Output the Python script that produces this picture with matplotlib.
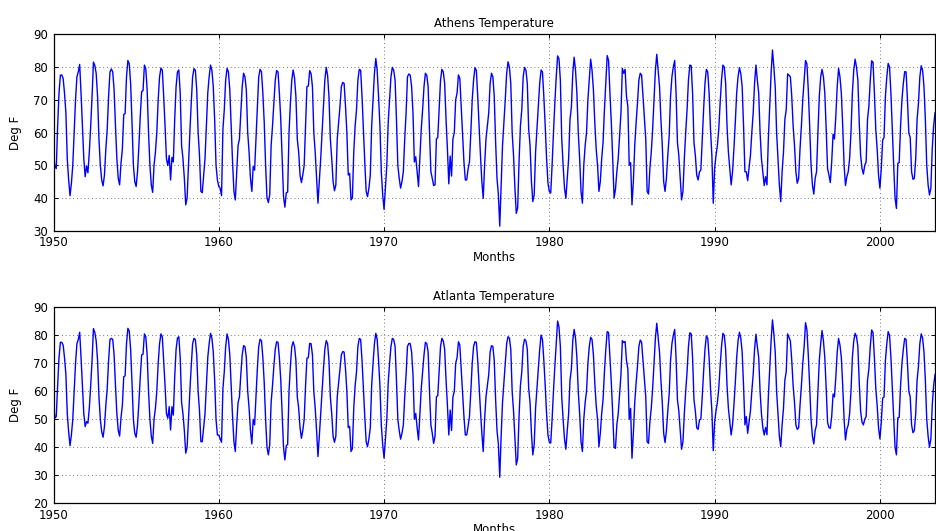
import numpy as np
import matplotlib
matplotlib.use("Agg")
import matplotlib.pyplot as plt

plt.rcParams['font.family'] = ['DejaVu Sans']

start_year = 1950
# Monthly mean temperatures (Deg F), Jan 1950 .. May 2003, one row per year
athens_temp = [
    53.4, 49.5, 49.0, 62.0, 72.0, 77.5, 77.6, 76.5, 72.0, 66.0, 52.0, 45.5,
    40.7, 44.5, 50.0, 60.0, 70.0, 77.0, 78.5, 80.8, 72.0, 62.0, 52.0, 46.5,
    49.8, 47.7, 54.0, 62.0, 71.0, 81.5, 80.5, 78.0, 71.0, 58.0, 50.0, 45.5,
    43.7, 47.0, 55.0, 61.0, 71.0, 78.5, 79.4, 78.5, 73.0, 62.0, 52.0, 46.0,
    44.0, 50.5, 55.0, 65.5, 65.8, 77.0, 82.0, 81.0, 75.0, 63.0, 50.0, 45.0,
    43.5, 48.0, 56.0, 65.0, 72.5, 72.8, 80.6, 79.5, 73.0, 60.0, 50.0, 44.0,
    41.7, 50.0, 54.0, 60.0, 70.0, 77.0, 79.7, 79.0, 71.0, 62.0, 52.0, 49.9,
    53.0, 45.5, 52.4, 51.0, 64.0, 74.0, 78.5, 79.1, 72.0, 56.0, 52.0, 46.0,
    37.9, 40.0, 50.0, 60.0, 69.0, 77.0, 79.5, 79.0, 73.0, 60.0, 53.0, 42.0,
    41.6, 47.0, 52.0, 62.0, 72.0, 77.0, 80.6, 79.0, 74.0, 64.0, 50.0, 45.5,
    43.5, 43.0, 40.7, 61.0, 67.0, 76.0, 79.6, 78.5, 73.0, 62.0, 51.0, 42.0,
    39.4, 48.0, 56.0, 58.0, 66.0, 74.0, 78.1, 77.0, 73.0, 60.0, 54.0, 46.0,
    42.0, 49.6, 48.5, 58.0, 68.0, 77.0, 79.3, 78.5, 72.0, 63.0, 50.0, 40.0,
    38.6, 41.0, 56.0, 62.0, 69.0, 76.0, 78.9, 78.5, 72.0, 64.0, 52.0, 40.5,
    37.2, 41.6, 41.8, 60.0, 69.0, 76.0, 79.1, 76.6, 71.0, 58.0, 54.0, 47.0,
    44.7, 47.0, 50.0, 62.0, 74.0, 74.2, 78.9, 78.0, 74.0, 60.0, 54.0, 46.0,
    38.4, 45.0, 52.0, 60.0, 68.0, 76.0, 79.9, 77.5, 71.0, 58.0, 52.0, 45.0,
    42.2, 44.0, 58.0, 63.0, 68.0, 74.0, 75.3, 75.0, 68.0, 60.0, 47.0, 47.5,
    39.4, 40.0, 54.0, 62.0, 67.0, 76.0, 79.3, 79.0, 71.0, 61.0, 51.0, 42.0,
    40.4, 43.0, 47.0, 62.0, 70.0, 78.0, 82.6, 79.0, 71.0, 62.0, 48.0, 41.0,
    36.5, 43.0, 50.0, 63.0, 70.0, 77.0, 79.9, 79.0, 76.0, 64.0, 50.0, 46.0,
    43.0, 45.0, 48.0, 58.0, 66.0, 77.0, 77.9, 77.5, 74.0, 66.0, 51.0, 52.6,
    48.0, 43.5, 52.0, 61.0, 67.0, 74.0, 78.1, 77.5, 74.0, 60.0, 48.0, 46.0,
    43.8, 44.0, 58.0, 58.5, 67.0, 76.0, 79.3, 78.5, 75.0, 64.0, 55.0, 44.3,
    52.8, 46.7, 58.0, 60.0, 70.0, 72.0, 77.6, 76.5, 68.0, 59.0, 51.0, 45.5,
    45.5, 48.8, 51.0, 60.0, 70.0, 76.0, 79.8, 79.0, 71.0, 62.0, 53.0, 45.0,
    39.9, 50.0, 58.0, 62.0, 66.0, 75.0, 78.1, 77.0, 71.0, 57.0, 46.0, 41.0,
    31.4, 44.0, 56.0, 63.0, 70.0, 78.0, 81.6, 80.0, 75.0, 60.0, 53.0, 43.0,
    35.3, 37.0, 51.0, 62.0, 67.0, 77.0, 79.9, 79.0, 75.0, 61.0, 56.0, 45.0,
    38.9, 41.0, 54.0, 61.0, 68.0, 75.0, 79.1, 78.5, 71.0, 62.0, 52.0, 44.5,
    42.0, 41.5, 50.0, 60.0, 69.0, 77.0, 83.4, 82.5, 76.0, 58.0, 50.0, 43.0,
    39.9, 46.0, 52.0, 64.0, 67.7, 78.0, 83.0, 79.0, 72.0, 60.0, 52.0, 42.0,
    38.4, 50.0, 56.0, 60.0, 70.0, 76.0, 82.4, 79.0, 73.0, 63.0, 55.0, 50.0,
    42.0, 45.0, 52.0, 57.0, 67.0, 75.0, 83.5, 82.0, 72.0, 63.0, 52.0, 40.0,
    42.6, 48.0, 52.0, 59.0, 66.0, 79.6, 78.1, 79.3, 71.0, 68.0, 50.0, 50.8,
    37.9, 45.0, 56.0, 63.0, 69.0, 76.0, 78.1, 77.5, 71.0, 65.0, 58.0, 42.0,
    41.2, 49.0, 54.0, 61.0, 70.0, 79.0, 83.9, 79.0, 74.0, 64.0, 56.0, 45.0,
    42.0, 46.0, 53.0, 59.0, 71.0, 77.0, 80.0, 82.0, 72.0, 57.0, 53.0, 46.0,
    39.4, 42.0, 52.0, 60.0, 67.0, 76.0, 80.6, 80.4, 72.0, 57.0, 53.0, 47.0,
    45.5, 48.0, 48.5, 58.0, 67.0, 75.0, 79.3, 78.5, 72.0, 61.0, 53.0, 38.4,
    49.0, 53.0, 56.0, 61.0, 69.0, 76.0, 80.6, 80.0, 75.0, 62.0, 54.0, 49.0,
    44.0, 48.0, 55.0, 63.0, 72.0, 77.0, 79.8, 78.0, 74.0, 62.0, 48.0, 48.0,
    45.3, 49.0, 53.0, 60.0, 66.0, 75.0, 80.6, 76.0, 72.0, 60.0, 52.0, 48.0,
    43.8, 46.5, 44.0, 58.0, 68.0, 78.0, 85.2, 80.0, 74.0, 60.0, 52.0, 44.0,
    38.9, 48.0, 54.0, 64.0, 67.0, 77.9, 77.5, 77.0, 71.0, 62.0, 56.0, 48.0,
    44.5, 46.0, 55.0, 62.0, 70.0, 76.0, 82.0, 81.0, 73.0, 62.0, 50.0, 44.0,
    41.2, 46.0, 48.0, 60.0, 71.0, 77.0, 79.3, 77.0, 72.0, 61.0, 49.0, 47.0,
    44.7, 51.0, 59.5, 58.0, 65.0, 74.0, 79.6, 77.0, 72.0, 62.0, 50.0, 43.8,
    46.5, 48.0, 52.0, 60.0, 72.0, 79.0, 82.4, 80.0, 76.0, 63.0, 53.0, 49.0,
    47.3, 50.0, 51.0, 64.0, 68.0, 76.0, 81.9, 81.5, 72.0, 61.0, 55.0, 47.0,
    43.0, 49.0, 57.7, 58.5, 71.0, 77.0, 81.1, 80.0, 72.0, 61.0, 50.0, 40.0,
    36.8, 50.6, 50.8, 62.0, 70.0, 75.0, 78.6, 78.5, 70.0, 59.8, 58.5, 48.0,
    45.7, 46.0, 52.0, 64.0, 69.0, 77.0, 80.4, 79.0, 74.0, 64.0, 50.0, 44.0,
    40.9, 43.0, 55.0, 62.0, 66.0,
]

atlanta_temp = [
    55.5, 50.4, 51.0, 62.0, 72.0, 77.5, 77.5, 76.5, 72.0, 66.0, 52.0, 45.5,
    40.6, 44.5, 50.0, 60.0, 70.0, 77.0, 78.5, 81.1, 72.0, 62.0, 52.0, 47.4,
    49.2, 48.6, 54.0, 62.0, 71.0, 82.4, 81.0, 78.0, 71.0, 58.0, 50.0, 45.5,
    43.6, 47.4, 55.0, 61.0, 71.0, 78.5, 78.9, 78.5, 73.0, 62.0, 52.0, 46.0,
    44.0, 50.5, 55.0, 65.2, 65.5, 77.0, 82.5, 81.5, 75.0, 63.0, 50.0, 45.0,
    43.6, 48.0, 56.0, 65.0, 73.0, 73.3, 80.5, 79.5, 73.0, 60.0, 50.0, 44.0,
    41.4, 50.0, 54.0, 60.0, 70.0, 77.0, 80.5, 79.5, 71.0, 62.0, 52.0, 50.4,
    54.5, 46.2, 54.5, 51.5, 65.0, 75.0, 79.0, 79.5, 72.0, 56.0, 52.0, 46.0,
    37.9, 40.0, 50.0, 60.0, 69.0, 77.0, 78.9, 78.5, 73.0, 60.0, 53.0, 42.0,
    42.0, 47.0, 52.0, 62.0, 72.0, 77.0, 80.7, 79.0, 74.0, 64.0, 50.0, 44.4,
    44.4, 43.0, 41.8, 61.0, 67.0, 76.0, 80.5, 78.5, 73.0, 62.0, 51.0, 42.0,
    38.5, 48.0, 56.0, 58.0, 66.0, 73.0, 76.3, 76.0, 72.0, 60.0, 54.0, 46.0,
    41.2, 50.0, 48.0, 58.0, 68.0, 76.0, 78.6, 78.0, 72.0, 63.0, 50.0, 40.0,
    37.3, 41.0, 56.0, 62.0, 69.0, 75.0, 77.7, 77.5, 72.0, 64.0, 52.0, 40.0,
    35.5, 40.6, 41.0, 60.0, 69.0, 76.0, 77.7, 76.0, 71.0, 58.0, 54.0, 47.0,
    43.2, 46.0, 50.0, 62.0, 71.8, 72.0, 77.1, 77.0, 73.0, 60.0, 54.0, 46.0,
    36.7, 44.0, 52.0, 60.0, 68.0, 75.0, 78.1, 77.0, 71.0, 58.0, 52.0, 43.8,
    41.8, 44.0, 58.0, 63.0, 68.0, 73.0, 74.2, 74.0, 68.0, 60.0, 47.0, 47.5,
    38.5, 39.5, 54.0, 62.0, 67.0, 76.0, 78.9, 78.5, 71.0, 61.0, 51.0, 42.0,
    40.2, 43.0, 47.0, 62.0, 70.0, 77.0, 80.7, 78.5, 71.0, 62.0, 48.0, 41.0,
    36.1, 43.0, 50.0, 63.0, 70.0, 76.0, 78.9, 78.5, 76.0, 64.0, 50.0, 46.0,
    42.9, 45.0, 48.0, 58.0, 66.0, 76.0, 77.1, 77.0, 74.0, 66.0, 50.0, 52.1,
    47.0, 42.6, 52.0, 61.0, 67.0, 73.0, 77.5, 77.0, 74.0, 60.0, 48.0, 45.0,
    41.4, 44.0, 58.0, 58.5, 67.0, 76.0, 78.9, 78.0, 75.0, 64.0, 55.0, 44.4,
    53.3, 46.0, 58.0, 60.0, 70.0, 72.0, 77.7, 76.5, 68.0, 59.0, 51.0, 44.4,
    44.4, 47.4, 51.0, 60.0, 70.0, 76.0, 77.7, 77.5, 71.0, 62.0, 53.0, 45.0,
    38.5, 50.0, 58.0, 62.0, 66.0, 74.0, 76.3, 76.0, 71.0, 57.0, 46.0, 41.0,
    29.3, 44.0, 56.0, 63.0, 70.0, 77.0, 79.5, 79.0, 75.0, 60.0, 53.0, 43.0,
    33.7, 36.0, 51.0, 62.0, 67.0, 76.0, 78.6, 78.0, 75.0, 61.0, 56.0, 45.0,
    37.3, 41.0, 54.0, 61.0, 68.0, 75.0, 80.1, 78.5, 71.0, 62.0, 52.0, 44.4,
    41.8, 41.5, 50.0, 60.0, 69.0, 77.0, 85.1, 83.0, 76.0, 58.0, 50.0, 43.0,
    39.3, 46.0, 52.0, 64.0, 67.9, 78.0, 82.1, 79.0, 72.0, 60.0, 52.0, 42.0,
    38.5, 50.0, 56.0, 60.0, 70.0, 76.0, 79.3, 78.5, 73.0, 63.0, 55.0, 50.0,
    40.2, 45.0, 52.0, 57.0, 67.0, 75.0, 81.3, 81.0, 72.0, 63.0, 52.0, 40.0,
    39.6, 48.0, 52.0, 59.0, 66.0, 78.1, 77.4, 77.8, 71.0, 68.0, 50.0, 53.9,
    36.1, 45.0, 56.0, 63.0, 69.0, 76.0, 78.3, 77.5, 71.0, 65.0, 58.0, 42.0,
    41.4, 49.0, 54.0, 61.0, 70.0, 79.0, 84.3, 79.0, 74.0, 64.0, 56.0, 45.0,
    41.7, 46.0, 53.0, 59.0, 71.0, 77.0, 80.0, 82.1, 72.0, 57.0, 53.0, 46.0,
    39.3, 42.0, 52.0, 60.0, 67.0, 76.0, 80.9, 80.5, 72.0, 57.0, 53.0, 47.0,
    46.4, 49.8, 50.0, 58.0, 67.0, 75.0, 79.8, 79.0, 72.0, 61.0, 53.0, 38.8,
    49.0, 53.0, 56.0, 61.0, 69.0, 76.0, 80.7, 80.0, 75.0, 62.0, 54.0, 49.0,
    44.4, 48.0, 55.0, 63.0, 72.0, 78.0, 81.1, 79.0, 74.0, 62.0, 48.0, 51.0,
    45.0, 49.0, 53.0, 60.0, 66.0, 75.0, 80.4, 76.0, 72.0, 60.0, 52.0, 47.0,
    44.4, 47.1, 44.5, 58.0, 68.0, 78.0, 85.5, 80.5, 74.0, 60.0, 52.0, 44.0,
    40.2, 48.0, 54.0, 64.0, 67.0, 80.5, 79.2, 78.0, 71.0, 62.0, 56.0, 48.0,
    46.4, 47.0, 55.0, 62.0, 70.0, 76.0, 84.5, 82.0, 73.0, 62.0, 50.0, 44.0,
    41.2, 46.0, 48.0, 60.0, 71.0, 77.0, 81.7, 78.0, 72.0, 61.0, 49.0, 47.0,
    46.8, 51.0, 59.0, 58.0, 65.0, 74.0, 78.9, 76.5, 72.0, 62.0, 50.0, 42.6,
    46.4, 48.0, 52.0, 60.0, 72.0, 78.0, 80.7, 79.5, 76.0, 63.0, 53.0, 49.0,
    48.0, 50.0, 51.0, 64.0, 68.0, 76.0, 81.9, 81.0, 72.0, 61.0, 55.0, 47.0,
    43.0, 49.0, 57.5, 58.0, 71.0, 77.0, 81.3, 80.0, 72.0, 61.0, 50.7, 40.0,
    37.3, 50.5, 50.7, 62.0, 70.0, 75.0, 78.9, 78.5, 70.0, 60.0, 58.0, 48.0,
    45.2, 46.0, 52.0, 64.0, 69.0, 77.0, 80.5, 79.0, 74.0, 64.0, 50.0, 44.0,
    40.0, 43.0, 55.0, 62.0, 66.0,
]

titles = ["Athens Temperature", "Atlanta Temperature"]
x_ticks = [1950, 1960, 1970, 1980, 1990, 2000]
athens_yticks = [30, 40, 50, 60, 70, 80, 90]
atlanta_yticks = [20, 30, 40, 50, 60, 70, 80, 90]

W, H = 936, 531
fig = plt.figure(figsize=(W / 100, H / 100), dpi=100)

left = 53.5 / W
width = (935.0 - 53.5) / W
ax1 = fig.add_axes([left, 1 - 230.7 / H, width, 196.4 / H])
ax2 = fig.add_axes([left, 1 - 503.3 / H, width, 196.0 / H])

series = [athens_temp, atlanta_temp]
yticks = [athens_yticks, atlanta_yticks]

for ax, data, title, yt in zip([ax1, ax2], series, titles, yticks):
    vals = np.array(data)
    x = start_year + np.arange(len(vals)) / 12.0
    ax.plot(x, vals, color=(0, 0, 1), linewidth=1.0)
    ax.set_xlim(x[0], x[-1])
    ax.set_ylim(yt[0], yt[-1])
    ax.set_xticks(x_ticks)
    ax.set_yticks(yt)
    ax.grid(True, color='0.3', linestyle=(0, (1, 3.5)), linewidth=0.6)
    ax.tick_params(direction='in', top=True, right=True, length=3,
                   width=0.7, labelsize=8.5, colors='black')
    ax.tick_params(axis='x', pad=4)
    ax.tick_params(axis='y', pad=4)
    for sp in ax.spines.values():
        sp.set_linewidth(0.9)
        sp.set_color('black')
    ax.set_title(title, fontsize=8.5, pad=5)
    ax.set_xlabel("Months", fontsize=8.5, labelpad=1.0)
    ax.set_ylabel("Deg F", fontsize=8.5, labelpad=8)

fig.savefig("out.png", dpi=100)
